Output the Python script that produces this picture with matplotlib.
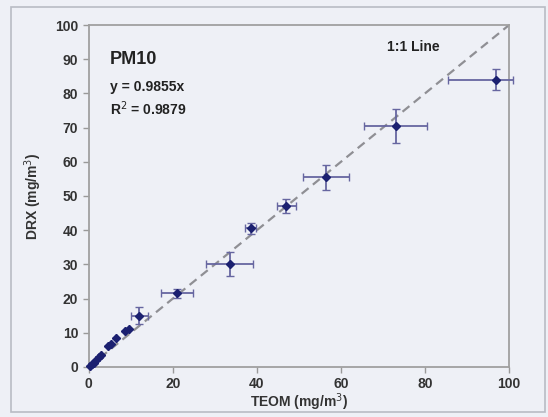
import numpy as np
import matplotlib.pyplot as plt
from matplotlib.patches import Rectangle

# Valeurs (TEOM vs DRX, PM10)
teom = [0.3, 0.7, 1.2, 1.8, 2.5, 3.0, 4.5, 5.2, 6.5, 8.5, 9.5, 12.0, 21.0, 33.5, 38.5, 47.0, 56.5, 73.0, 97.0]
drx = [0.3, 0.8, 1.3, 2.0, 3.0, 3.6, 6.0, 6.6, 8.6, 10.5, 11.0, 15.0, 21.5, 30.0, 40.5, 47.0, 55.5, 70.5, 84.0]
xerr_bas = [0, 0, 0, 0, 0, 0, 0, 0, 0, 0, 0, 2.0, 3.7, 5.5, 1.3, 2.3, 5.5, 7.5, 11.5]
xerr_haut = [0, 0, 0, 0, 0, 0, 0, 0, 0, 0, 0, 2.0, 3.7, 5.5, 1.3, 2.3, 5.5, 7.5, 4.0]
yerr = [0, 0, 0, 0, 0, 0, 0, 0, 0, 0, 0, 2.5, 1.2, 3.5, 1.5, 2.0, 3.7, 5.0, 3.0]

fond = '#eef0f6'
fig = plt.figure(figsize=(5.48, 4.17), dpi=100, facecolor=fond)
plt.rcParams['font.family'] = ['Liberation Sans', 'DejaVu Sans']

# cadre autour de la figure
fig.patches.append(Rectangle((0.02, 0.012), 0.975, 0.972, transform=fig.transFigure,
                             fill=False, edgecolor='#b8bcc4', linewidth=1.2))

ax = fig.add_axes([0.162, 0.12, 0.767, 0.82])
ax.set_facecolor(fond)

# ligne 1:1
ax.plot([0, 100], [0, 100], linestyle=(0, (4, 2.5)), color='#8f8f94', linewidth=1.6, zorder=1)

ax.errorbar(teom, drx, xerr=[xerr_bas, xerr_haut], yerr=yerr, fmt='D',
            color='#1b2070', ecolor='#6666a0', elinewidth=1.3, capsize=3,
            markersize=4.5, zorder=3, clip_on=False)

ax.set_xlim(0, 100)
ax.set_ylim(0, 100)
ax.set_xticks(np.arange(0, 101, 20))
ax.set_yticks(np.arange(0, 101, 10))
ax.tick_params(direction='out', length=4, color='#999999', labelsize=10,
               labelcolor='#333333', width=1)
for lab in ax.get_xticklabels() + ax.get_yticklabels():
    lab.set_fontweight('bold')
for s in ax.spines.values():
    s.set_color('#a0a0a0')
    s.set_linewidth(1.3)

ax.set_xlabel('TEOM (mg/m$^3$)', fontsize=10, fontweight='bold', color='#333333', labelpad=0)
ax.set_ylabel('DRX (mg/m$^3$)', fontsize=10, fontweight='bold', color='#333333', labelpad=8)

ax.text(5, 90, 'PM10', fontsize=13, fontweight='bold', color='#222222', va='center')
ax.text(5, 82, 'y = 0.9855x', fontsize=10, fontweight='bold', color='#222222', va='center')
ax.text(5, 75.5, 'R$^2$ = 0.9879', fontsize=10, fontweight='bold', color='#222222', va='center')
ax.text(71, 93.5, '1:1 Line', fontsize=10, fontweight='bold', color='#222222', va='center')

fig.savefig('out.png', dpi=100, facecolor=fond)
